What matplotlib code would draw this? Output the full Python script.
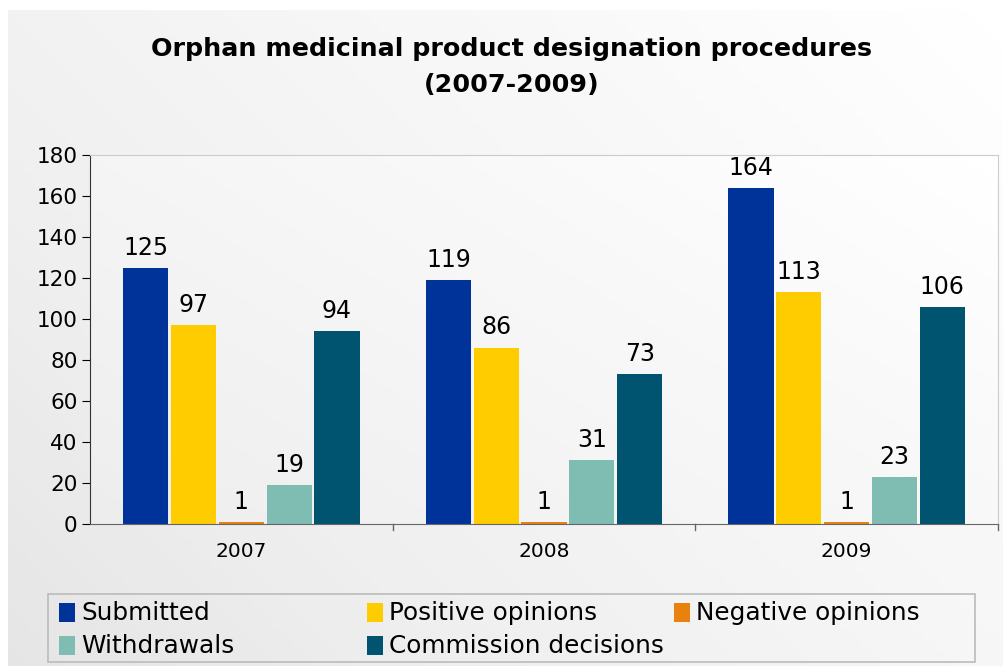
import numpy as np
import matplotlib.pyplot as plt
from matplotlib.patches import Rectangle

years = ["2007", "2008", "2009"]
series = ["Submitted", "Positive opinions", "Negative opinions", "Withdrawals", "Commission decisions"]
submitted = [125, 119, 164]
positive = [97, 86, 113]
negative = [1, 1, 1]
withdrawals = [19, 31, 23]
commission = [94, 73, 106]
colors = ["#003399", "#FFCC00", "#E8820C", "#7FBDB3", "#00546F"]
values = [submitted, positive, negative, withdrawals, commission]

plt.rcParams['font.family'] = ['DejaVu Sans']

W, H = 1004, 666
fig = plt.figure(figsize=(W / 100, H / 100), dpi=100)
fig.patch.set_facecolor("white")

# background panel with diagonal gradient
bg = fig.add_axes([8 / W, 0, 1 - 8 / W, 1 - 10 / H], zorder=-10)
gx, gy = np.meshgrid(np.linspace(0, 1, 200), np.linspace(0, 1, 200))
g = (gx * 0.6 + (1 - gy) * 0.4)
bg.imshow(g, cmap="Greys_r", vmin=-4.5, vmax=1.0, aspect="auto", extent=[0, 1, 0, 1], origin="upper")
bg.set_xlim(0, 1)
bg.set_ylim(0, 1)
bg.axis("off")

ax = fig.add_axes([90 / W, 1 - 524 / H, (998 - 90) / W, (524 - 155) / H])
ax.set_xlim(-0.5, 2.5)
ax.set_ylim(0, 180)
ax.imshow(g, cmap="Greys_r", vmin=-6.0, vmax=1.0, aspect="auto",
          extent=[-0.5, 2.5, 0, 180], origin="upper", zorder=0)

x = np.arange(len(years))
step = 0.158
width = 0.149
for i, (name, vals, c) in enumerate(zip(series, values, colors)):
    pos = x + (i - 2) * step
    bars = ax.bar(pos, vals, width, color=c, label=name, zorder=2)
    for p, v in zip(pos, vals):
        ax.text(p, v + 4, str(v), ha="center", va="bottom", fontsize=17, color="black")

ax.set_yticks(range(0, 181, 20))
ax.tick_params(axis="y", labelsize=15.5, length=6, direction="out", pad=3)
ax.set_xticks(x)
ax.set_xticklabels(years, fontsize=14.5)
ax.tick_params(axis="x", length=0, pad=13)
for b in [0.5, 1.5, 2.5]:
    ax.plot([b, b], [0, -3], color="#666666", lw=1, clip_on=False)

ax.spines["left"].set_color("#333333")
ax.spines["bottom"].set_color("#666666")
ax.spines["top"].set_color("#cccccc")
ax.spines["right"].set_color("#cccccc")

fig.text(512 / W, 1 - 49 / H, "Orphan medicinal product designation procedures",
         ha="center", va="center", fontsize=18.3, fontweight="bold")
fig.text(512 / W, 1 - 85 / H, "(2007-2009)",
         ha="center", va="center", fontsize=18.3, fontweight="bold")

# legend box
fig.patches.append(Rectangle((48 / W, 1 - 662 / H), (975 - 48) / W, (662 - 594) / H,
                             transform=fig.transFigure, facecolor="none",
                             edgecolor="#bbbbbb", lw=1.2))
leg_pos = [(59, 613), (367, 613), (674, 613), (59, 646), (367, 646)]
for (lx, ly), name, c in zip(leg_pos, series, colors):
    fig.patches.append(Rectangle((lx / W, 1 - (ly + 9) / H), 16 / W, 19 / H,
                                 transform=fig.transFigure, facecolor=c, edgecolor="none"))
    fig.text((lx + 22) / W, 1 - ly / H, name, ha="left", va="center", fontsize=17.8)

fig.savefig("out.png", dpi=100)
